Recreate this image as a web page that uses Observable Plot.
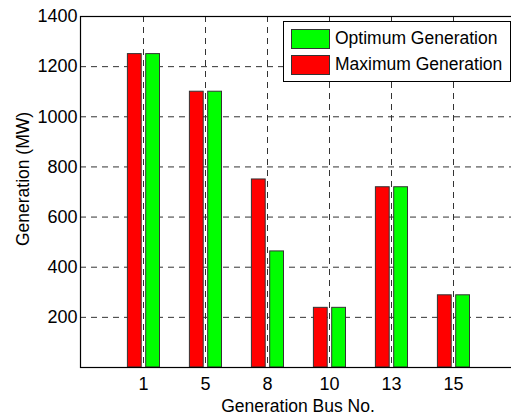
<!DOCTYPE html>
<html>
<head>
<meta charset="utf-8">
<script src="https://cdn.jsdelivr.net/npm/d3@7"></script>
<script src="https://cdn.jsdelivr.net/npm/@observablehq/plot@0.6"></script>
<style>
  html, body { margin: 0; padding: 0; background: white; }
  #wrap { position: relative; width: 511px; height: 419px; overflow: hidden; font-family: "Liberation Sans", Arial, sans-serif; }
  #wrap svg { max-width: none !important; }
  #legend { position: absolute; left: 283px; top: 21px; width: 228px; height: 61px; box-sizing: border-box;
            border: 1px solid black; background: white; font-size: 17.5px; }
  .item { position: absolute; left: 7px; height: 21px; display: flex; align-items: center; }
  .sw { width: 39px; height: 20px; border: 1px solid #333; margin-right: 5px; box-sizing: border-box; }
</style>
</head>
<body>
<div id="wrap"></div>
<script>
const buses = ["1", "5", "8", "10", "13", "15"];
const maxGen = [1250, 1100, 750, 238, 719, 288];
const optGen = [1250, 1100, 463, 238, 719, 288];
const yTicks = [200, 400, 600, 800, 1000, 1200, 1400];
const seriesNames = ["Optimum Generation", "Maximum Generation"];
const seriesColors = ["#00ff00", "#ff0000"];

const data = buses.map((b, i) => ({bus: b, max: maxGen[i], opt: optGen[i]}));

const chart = Plot.plot({
  width: 515,
  height: 419,
  marginLeft: 80,
  marginRight: 0,
  marginTop: 16,
  marginBottom: 52,
  style: {fontFamily: "'Liberation Sans', Arial, sans-serif", fontSize: "18px", color: "black", background: "white", maxWidth: "none"},
  x: {type: "band", domain: buses, paddingInner: 0, paddingOuter: 0.5},
  y: {domain: [0, 1400]},
  marks: [
    Plot.ruleY(yTicks, {stroke: "#333", strokeDasharray: "6,5"}),
    Plot.ruleX(buses, {stroke: "#333", strokeDasharray: "6,5"}),
    Plot.barY(data, {x: "bus", y: "max", fill: seriesColors[1], stroke: "#333", insetLeft: 15.4, insetRight: 32.8}),
    Plot.barY(data, {x: "bus", y: "opt", fill: seriesColors[0], stroke: "#333", insetLeft: 33.7, insetRight: 14.5}),
    Plot.frame({stroke: "black", strokeWidth: 1.2}),
    Plot.axisX({ticks: buses, tickSize: 0, tickPadding: 10, fontSize: 18, label: null}),
    Plot.axisY({ticks: yTicks, tickSize: 0, tickPadding: 3, fontSize: 18, label: null, tickFormat: d => String(d)}),
    Plot.text(["Generation Bus No."], {frameAnchor: "bottom", dy: 44, fontSize: 17.5, textAnchor: "middle"}),
    Plot.text(["Generation (MW)"], {frameAnchor: "left", rotate: -90, dx: -57, dy: -13, fontSize: 17.5, textAnchor: "middle"})
  ]
});

const wrap = document.getElementById("wrap");
wrap.appendChild(chart);

const legend = document.createElement("div");
legend.id = "legend";
seriesNames.forEach((name, i) => {
  const item = document.createElement("div");
  item.className = "item";
  item.style.top = (i === 0 ? 6 : 32) + "px";
  const sw = document.createElement("div");
  sw.className = "sw";
  sw.style.background = seriesColors[i];
  const label = document.createElement("span");
  label.textContent = name;
  item.appendChild(sw);
  item.appendChild(label);
  legend.appendChild(item);
});
wrap.appendChild(legend);
</script>
</body>
</html>
